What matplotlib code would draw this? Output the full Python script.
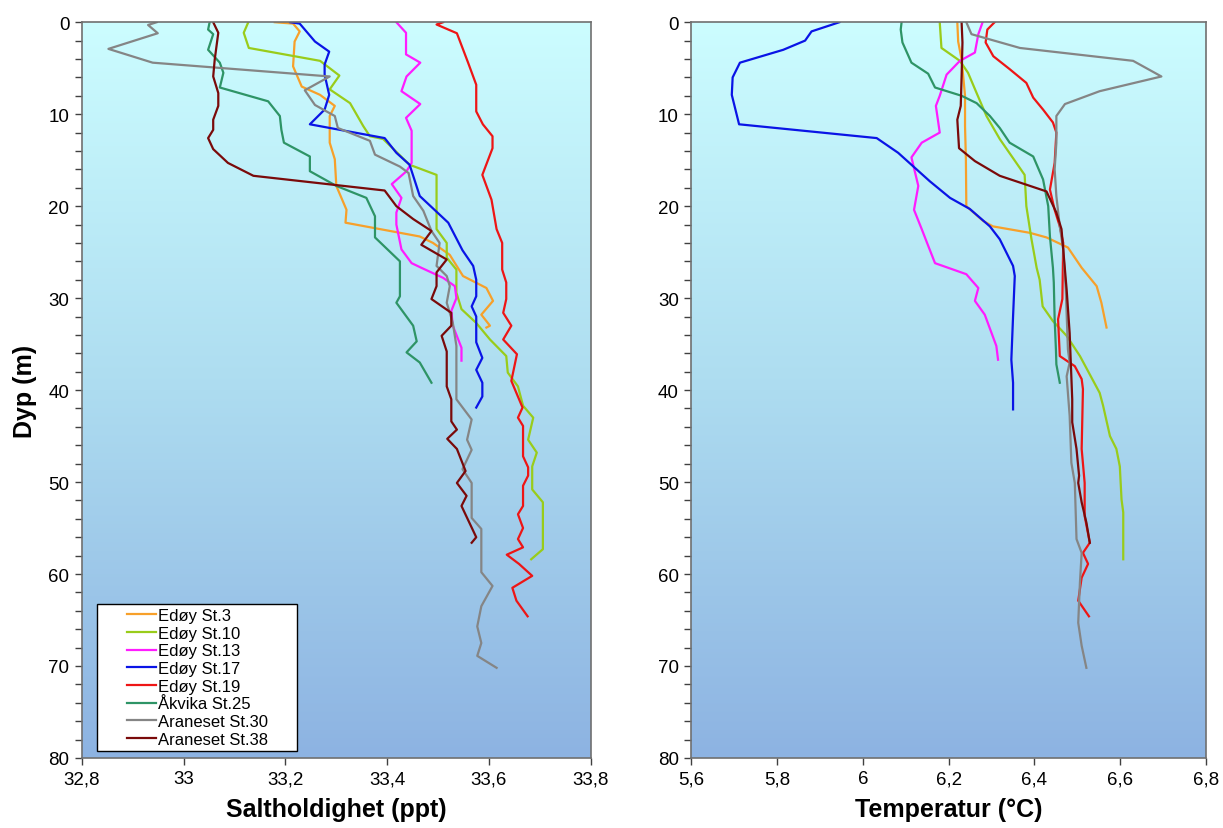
import numpy as np
import matplotlib
matplotlib.use('Agg')
import matplotlib.pyplot as plt
from matplotlib.colors import LinearSegmentedColormap
from matplotlib.legend_handler import HandlerLine2D
from matplotlib.ticker import MultipleLocator

plt.rcParams['font.family'] = ['Liberation Sans', 'DejaVu Sans']

stations = ['Edøy St.3', 'Edøy St.10', 'Edøy St.13', 'Edøy St.17', 'Edøy St.19',
            'Åkvika St.25', 'Araneset St.30', 'Araneset St.38']
colors = ['#F7A02A', '#99CC1A', '#FF1CFF', '#0A14E6', '#EE1515',
          '#2E9466', '#858585', '#7A0A0A']

# --- salinity (ppt) profiles: depth (m) and value ---
sal_d_st3 = [0, 0.15, 1.0, 2.1, 4.8, 7.0, 7.9, 9.1, 10.2, 13.1, 14.9, 17.8, 20.4, 21.8,
             23.3, 24.0, 25.3, 27.6, 28.9, 30.3, 31.8, 33.0, 33.2]
sal_st3 = [33.179, 33.215, 33.228, 33.218, 33.215, 33.232, 33.268, 33.297, 33.287, 33.287,
           33.297, 33.300, 33.320, 33.318, 33.464, 33.490, 33.523, 33.549, 33.595, 33.608,
           33.585, 33.602, 33.595]

sal_d_st10 = [0, 1.15, 2.8, 4.2, 5.8, 7.3, 8.8, 11.3, 12.4, 12.7, 15.5, 16.6, 22.5, 24.0,
              25.6, 26.9, 29.4, 31.2, 32.7, 34.5, 36.3, 38.1, 39.6, 41.7, 43.0, 45.4, 46.8,
              48.3, 50.8, 52.2, 57.3, 58.4]
sal_st10 = [33.127, 33.118, 33.128, 33.268, 33.306, 33.287, 33.327, 33.353, 33.366, 33.392,
            33.444, 33.497, 33.497, 33.517, 33.517, 33.536, 33.536, 33.546, 33.575, 33.602,
            33.634, 33.637, 33.657, 33.667, 33.687, 33.677, 33.694, 33.685, 33.685, 33.706,
            33.706, 33.683]

sal_d_st13 = [0, 1.15, 3.5, 4.4, 5.9, 7.5, 8.9, 10.4, 11.8, 15.3, 16.2, 17.6, 19.1, 20.7,
              22.0, 24.7, 26.2, 26.7, 27.8, 28.7, 30.0, 31.4, 33.0, 35.4, 36.8]
sal_st13 = [33.418, 33.437, 33.437, 33.465, 33.438, 33.428, 33.465, 33.437, 33.448, 33.448,
            33.438, 33.409, 33.428, 33.418, 33.418, 33.428, 33.448, 33.467, 33.510, 33.533,
            33.536, 33.526, 33.529, 33.546, 33.546]

sal_d_st17 = [0, 0.15, 2.1, 3.2, 4.6, 5.7, 7.9, 9.5, 11.1, 12.6, 14.2, 15.5, 18.9, 21.8,
              24.8, 26.5, 28.0, 29.8, 30.9, 32.0, 34.8, 36.5, 37.8, 39.2, 40.7, 41.9]
sal_st17 = [33.209, 33.228, 33.258, 33.286, 33.277, 33.277, 33.286, 33.277, 33.248, 33.395,
            33.418, 33.444, 33.464, 33.520, 33.548, 33.569, 33.575, 33.575, 33.566, 33.575,
            33.575, 33.587, 33.575, 33.587, 33.587, 33.575]

sal_d_st19 = [0, 0.25, 1.2, 4.4, 6.8, 9.7, 11.1, 12.4, 13.7, 16.6, 19.3, 22.5, 24.0, 26.9,
              28.3, 30.1, 31.6, 33.0, 34.5, 36.1, 39.0, 41.9, 43.0, 43.9, 47.2, 48.4, 49.3,
              50.4, 52.6, 53.5, 55.0, 56.2, 57.1, 57.9, 58.9, 60.2, 61.5, 62.9, 64.6]
sal_st19 = [33.510, 33.497, 33.537, 33.559, 33.575, 33.575, 33.588, 33.607, 33.607, 33.587,
            33.605, 33.615, 33.626, 33.626, 33.634, 33.634, 33.628, 33.644, 33.628, 33.655,
            33.644, 33.666, 33.657, 33.667, 33.667, 33.677, 33.677, 33.667, 33.667, 33.657,
            33.667, 33.657, 33.667, 33.635, 33.659, 33.685, 33.646, 33.654, 33.676]

sal_d_st25 = [0, 0.8, 1.3, 3.0, 4.4, 5.5, 7.1, 8.6, 10.2, 11.7, 13.1, 14.6, 16.2, 17.8, 19.1,
              21.1, 23.4, 26.0, 29.8, 30.5, 33.0, 34.7, 35.9, 37.0, 39.2]
sal_st25 = [33.051, 33.048, 33.058, 33.048, 33.071, 33.078, 33.071, 33.166, 33.189, 33.192,
            33.197, 33.248, 33.248, 33.300, 33.359, 33.376, 33.376, 33.425, 33.425, 33.418,
            33.451, 33.458, 33.438, 33.464, 33.487]

sal_d_st30 = [0, 0.3, 1.2, 2.9, 4.4, 5.9, 7.4, 9.0, 10.2, 11.5, 12.9, 14.4, 15.7, 16.4, 18.9,
              20.5, 22.7, 24.0, 26.5, 27.6, 28.7, 30.5, 32.7, 35.2, 41.0, 43.2, 45.4, 46.5,
              48.6, 50.1, 53.9, 55.1, 59.8, 61.3, 63.5, 65.7, 67.5, 68.9, 70.2]
sal_st30 = [32.947, 32.930, 32.949, 32.852, 32.939, 33.287, 33.238, 33.258, 33.297, 33.303,
            33.366, 33.376, 33.425, 33.442, 33.451, 33.471, 33.487, 33.503, 33.497, 33.517,
            33.523, 33.517, 33.529, 33.536, 33.536, 33.566, 33.557, 33.566, 33.548, 33.566,
            33.566, 33.585, 33.585, 33.607, 33.585, 33.577, 33.585, 33.577, 33.615]

sal_d_st38 = [0, 1.15, 4.05, 5.9, 7.7, 9.1, 10.6, 11.7, 12.6, 13.8, 15.3, 16.7, 18.3, 20.0,
              21.4, 22.7, 24.2, 25.8, 27.2, 28.7, 30.1, 31.6, 33.0, 34.1, 35.8, 39.6, 41.0,
              43.4, 44.3, 45.3, 46.4, 48.8, 50.1, 51.5, 52.6, 56.0, 56.6]
sal_st38 = [33.058, 33.068, 33.061, 33.058, 33.068, 33.068, 33.058, 33.058, 33.048, 33.058,
            33.087, 33.137, 33.395, 33.418, 33.451, 33.487, 33.467, 33.517, 33.497, 33.497,
            33.487, 33.526, 33.526, 33.507, 33.517, 33.517, 33.526, 33.526, 33.537, 33.518,
            33.537, 33.554, 33.537, 33.556, 33.546, 33.575, 33.566]

# --- temperature (°C) profiles ---
tmp_d_st3 = [0, 2.1, 4.05, 8.0, 11.3, 14.9, 20.0, 21.6, 22.2, 22.9, 23.4, 24.5, 26.7, 28.7,
             30.5, 33.2]
tmp_st3 = [6.220, 6.222, 6.230, 6.238, 6.238, 6.240, 6.241, 6.280, 6.303, 6.389, 6.428,
           6.478, 6.510, 6.545, 6.556, 6.568]

tmp_d_st10 = [0, 2.8, 4.2, 5.5, 7.7, 10.2, 12.7, 16.6, 20.0, 23.6, 26.7, 28.0, 30.9, 32.5,
              34.1, 36.3, 40.3, 41.7, 45.0, 46.4, 48.3, 51.9, 53.3, 58.4]
tmp_st10 = [6.179, 6.183, 6.226, 6.245, 6.265, 6.288, 6.319, 6.377, 6.381, 6.393, 6.405,
            6.412, 6.419, 6.443, 6.475, 6.506, 6.552, 6.560, 6.576, 6.591, 6.599, 6.603,
            6.607, 6.607]

tmp_d_st13 = [0, 1.3, 3.3, 4.2, 5.7, 8.0, 9.1, 12.0, 13.1, 14.7, 17.8, 20.4, 22.5, 24.3,
              26.2, 27.4, 28.9, 30.3, 31.8, 35.2, 36.7]
tmp_st13 = [6.279, 6.269, 6.261, 6.226, 6.195, 6.179, 6.170, 6.179, 6.137, 6.113, 6.129,
            6.119, 6.137, 6.152, 6.168, 6.241, 6.269, 6.261, 6.284, 6.311, 6.315]

tmp_d_st17 = [0, 1.0, 2.0, 3.0, 4.4, 6.0, 7.9, 11.1, 12.6, 14.2, 15.5, 17.3, 19.1, 20.3,
              22.2, 23.6, 26.5, 27.6, 32.0, 36.7, 39.2, 42.1]
tmp_st17 = [5.945, 5.880, 5.865, 5.814, 5.713, 5.696, 5.694, 5.711, 6.032, 6.082, 6.113,
            6.156, 6.203, 6.249, 6.296, 6.319, 6.350, 6.354, 6.350, 6.346, 6.350, 6.350]

tmp_d_st19 = [0, 0.8, 2.2, 3.7, 5.1, 6.6, 8.2, 9.5, 10.9, 12.0, 15.3, 18.2, 20.4, 22.2, 24.0,
              30.1, 32.3, 36.3, 37.4, 38.8, 39.9, 46.4, 50.1, 53.7, 56.6, 57.7, 58.9, 60.4,
              62.9, 64.6]
tmp_st19 = [6.307, 6.290, 6.286, 6.304, 6.342, 6.381, 6.397, 6.420, 6.443, 6.451, 6.447,
            6.436, 6.447, 6.459, 6.467, 6.465, 6.455, 6.459, 6.494, 6.510, 6.513, 6.510,
            6.517, 6.517, 6.529, 6.513, 6.525, 6.510, 6.502, 6.527]

tmp_d_st25 = [0, 0.8, 2.2, 4.4, 5.6, 7.1, 8.0, 8.8, 10.2, 11.5, 13.1, 14.6, 17.1, 20.0, 23.3,
              26.7, 28.3, 32.3, 35.6, 37.2, 39.2]
tmp_st25 = [6.090, 6.088, 6.092, 6.113, 6.152, 6.168, 6.230, 6.265, 6.296, 6.319, 6.342,
            6.397, 6.420, 6.432, 6.436, 6.443, 6.445, 6.447, 6.450, 6.451, 6.459]

tmp_d_st30 = [0, 1.3, 2.8, 4.2, 5.9, 7.5, 8.9, 10.2, 13.1, 16.0, 18.9, 22.2, 24.7, 29.1,
              35.6, 37.0, 38.5, 42.8, 47.9, 50.1, 56.2, 57.7, 60.9, 65.3, 67.8, 70.2]
tmp_st30 = [6.241, 6.253, 6.366, 6.630, 6.696, 6.552, 6.471, 6.451, 6.451, 6.447, 6.451,
            6.459, 6.467, 6.473, 6.478, 6.482, 6.475, 6.482, 6.486, 6.494, 6.498, 6.510,
            6.506, 6.502, 6.510, 6.521]

tmp_d_st38 = [0, 2.2, 5.9, 9.1, 10.6, 13.7, 15.1, 16.7, 18.4, 20.7, 22.5, 24.7, 29.1, 33.8,
              41.0, 43.5, 46.4, 49.3, 50.1, 52.2, 54.4, 56.6]
tmp_st38 = [6.230, 6.232, 6.230, 6.228, 6.220, 6.224, 6.261, 6.319, 6.428, 6.451, 6.463,
            6.467, 6.475, 6.482, 6.488, 6.488, 6.498, 6.504, 6.502, 6.510, 6.521, 6.529]

sal_depths = [sal_d_st3, sal_d_st10, sal_d_st13, sal_d_st17, sal_d_st19, sal_d_st25, sal_d_st30, sal_d_st38]
sal_values = [sal_st3, sal_st10, sal_st13, sal_st17, sal_st19, sal_st25, sal_st30, sal_st38]
tmp_depths = [tmp_d_st3, tmp_d_st10, tmp_d_st13, tmp_d_st17, tmp_d_st19, tmp_d_st25, tmp_d_st30, tmp_d_st38]
tmp_values = [tmp_st3, tmp_st10, tmp_st13, tmp_st17, tmp_st19, tmp_st25, tmp_st30, tmp_st38]

sal_ticks = [32.8, 33.0, 33.2, 33.4, 33.6, 33.8]
sal_ticklabels = ['32,8', '33', '33,2', '33,4', '33,6', '33,8']
tmp_ticks = [5.6, 5.8, 6.0, 6.2, 6.4, 6.6, 6.8]
tmp_ticklabels = ['5,6', '5,8', '6', '6,2', '6,4', '6,6', '6,8']


class RightLine(HandlerLine2D):
    # draw the legend line only in the right part of the handle box
    def get_xdata(self, legend, xdescent, ydescent, width, height, fontsize):
        x = np.array([-xdescent + width - 1.75 * fontsize, -xdescent + width])
        return x, x


bg_cmap = LinearSegmentedColormap.from_list('bg', ['#CCFDFF', '#ADDCF0', '#8DB3E2'])


def setup_axis(ax, ticks, ticklabels, xlabel, xlim):
    ax.imshow(np.linspace(0, 1, 256).reshape(-1, 1), cmap=bg_cmap, aspect='auto',
              extent=[0, 1, 0, 1], transform=ax.transAxes, zorder=0)
    ax.set_xlim(*xlim)
    ax.set_ylim(80, 0)
    ax.set_xticks(ticks)
    ax.set_xticklabels(ticklabels)
    ax.yaxis.set_major_locator(MultipleLocator(10))
    ax.yaxis.set_minor_locator(MultipleLocator(2))
    ax.tick_params(axis='both', which='both', direction='out', length=5, width=1,
                   color='#404040', labelsize=13.5, pad=4)
    for s in ax.spines.values():
        s.set_color('#707070')
        s.set_linewidth(1.2)
    ax.set_xlabel(xlabel, fontsize=18, fontweight='bold', labelpad=7)


fig = plt.figure(figsize=(12.23, 8.29), dpi=100)
ax1 = fig.add_axes([0.067, 0.0845, 0.416, 0.8875])
ax2 = fig.add_axes([0.5654, 0.0845, 0.4207, 0.8875])

setup_axis(ax1, sal_ticks, sal_ticklabels, 'Saltholdighet (ppt)', (32.8, 33.8))
setup_axis(ax2, tmp_ticks, tmp_ticklabels, 'Temperatur (°C)', (5.6, 6.8))
ax1.set_ylabel('Dyp (m)', fontsize=18, fontweight='bold', labelpad=8)

for name, col, d, v in zip(stations, colors, sal_depths, sal_values):
    ax1.plot(v, d, color=col, lw=1.6, label=name, zorder=2)
for name, col, d, v in zip(stations, colors, tmp_depths, tmp_values):
    ax2.plot(v, d, color=col, lw=1.6, label=name, zorder=2)

ax1.set_xlim(32.8, 33.8)
ax1.set_ylim(80, 0)
ax2.set_xlim(5.6, 6.8)
ax2.set_ylim(80, 0)

leg = ax1.legend(loc='lower left', bbox_to_anchor=(0.0295, 0.0095, 0.393, 0.3),
                 mode='expand', borderaxespad=0, fontsize=12, handlelength=3.3,
                 handletextpad=0.1, labelspacing=0.16, borderpad=0.25, frameon=True,
                 fancybox=False, framealpha=1, edgecolor='black',
                 handler_map={plt.Line2D: RightLine()})
leg.get_frame().set_linewidth(1.0)

fig.savefig('out.png', dpi=100)
